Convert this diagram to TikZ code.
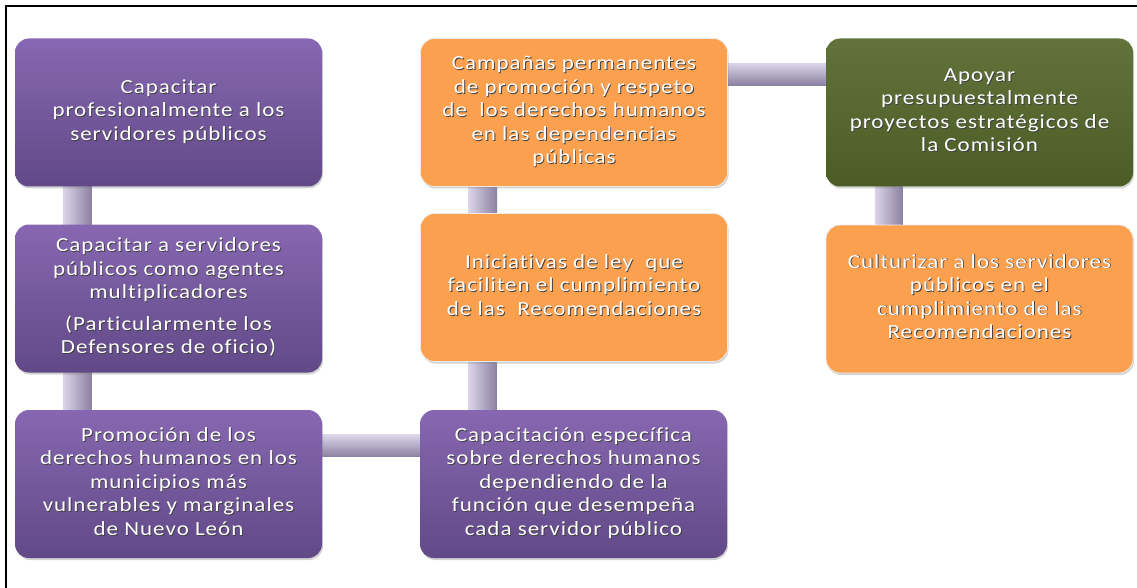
\documentclass[tikz,border=0pt]{standalone}
\usepackage{fontspec}
\setmainfont{Carlito}
\newfontfamily\boxfont[FakeStretch=1.15, LetterSpace=5, Ligatures=NoCommon]{Carlito}
\usetikzlibrary{shadows}
\pgfdeclarelayer{bg}
\pgfsetlayers{bg,main}

\definecolor{purpleTop}{HTML}{8767B1}
\definecolor{purpleBot}{HTML}{614987}
\definecolor{greenTop}{HTML}{61723A}
\definecolor{greenBot}{HTML}{4C5C25}
\definecolor{orangeFill}{HTML}{FBA04E}
\definecolor{barLight}{HTML}{DCD5E9}
\definecolor{barMid}{HTML}{ADA2C2}
\definecolor{barDark}{HTML}{8B80A1}

% white text with a soft dark offset copy behind it
\newcommand\shtxt[1]{%
  \setbox0\hbox{\begin{tabular}{@{}c@{}}#1\end{tabular}}%
  \rlap{\kern0.9pt\raisebox{-0.9pt}{\color{black!75}\copy0}}\box0}

\tikzset{
  box/.style={rounded corners=14pt, minimum width=307pt, minimum height=148pt,
    inner sep=0pt, text=white, font=\boxfont\fontsize{20}{23.5}\selectfont,
    drop shadow={shadow xshift=1pt, shadow yshift=-2pt, opacity=0.35}},
  purplebox/.style={box, top color=purpleTop, bottom color=purpleBot},
  greenbox/.style={box, top color=greenTop, bottom color=greenBot},
  orangebox/.style={box, fill=orangeFill, draw=white!92!black, line width=0.8pt},
  vbar/.style={left color=barLight, middle color=barMid, right color=barDark},
  hbar/.style={top color=barLight, middle color=barMid, bottom color=barDark},
}

\begin{document}
\begin{tikzpicture}[x=1pt, y=-1pt]
\useasboundingbox (0,0) rectangle (1137,588);

% frame
\draw[line width=2pt] (6,588) -- (6,6) -- (1137,6);

% left column
\node[purplebox] (A) at (168.5,112.5) {\shtxt{Capacitar\\profesionalmente a los\\servidores públicos}};
\node[purplebox] (B) at (168.5,298.5) {\shtxt{Capacitar a servidores\\públicos como agentes\\multiplicadores\\[8pt](Particularmente los\\Defensores de oficio)}};
\node[purplebox] (C) at (168.5,484) {\shtxt{Promoción de los\\derechos humanos en los\\municipios más\\vulnerables y marginales\\de Nuevo León}};

% middle column
\node[purplebox] (D) at (573.5,484) {\shtxt{Capacitación específica\\sobre derechos humanos\\dependiendo de la\\función que desempeña\\cada servidor público}};
\node[orangebox] (E) at (574,287.5) {\raisebox{16pt}{\shtxt{Iniciativas de ley\ \ que\\faciliten el cumplimiento\\de las\ \ Recomendaciones}}};
\node[orangebox] (F) at (574,112.5) {\shtxt{Campañas permanentes\\de promoción\ y respeto\\de\ \ los derechos humanos\\en las dependencias\\públicas}};

% right column
\node[greenbox] (G) at (979.5,112.5) {\shtxt{Apoyar\\presupuestalmente\\proyectos estratégicos de\\la Comisión}};
\node[orangebox] (H) at (979.5,299) {\shtxt{Culturizar a los servidores\\públicos en el\\cumplimiento de las\\Recomendaciones}};

% connecting bars
\begin{pgfonlayer}{bg}
\fill[vbar] ([xshift=48pt]A.south west) rectangle ([xshift=77pt]B.north west);
\fill[vbar] ([xshift=48pt]B.south west) rectangle ([xshift=77pt]C.north west);
\fill[hbar] ([yshift=-25pt]C.north east) rectangle ([yshift=-47pt]D.north west);
\fill[vbar] ([xshift=48pt]E.south west) rectangle ([xshift=77pt]D.north west);
\fill[vbar] ([xshift=48pt]F.south west) rectangle ([xshift=77pt]E.north west);
\fill[hbar] ([yshift=-25pt]F.north east) rectangle ([yshift=-47pt]G.north west);
\fill[vbar] ([xshift=49pt]G.south west) rectangle ([xshift=77pt]H.north west);
\end{pgfonlayer}
\end{tikzpicture}
\end{document}
